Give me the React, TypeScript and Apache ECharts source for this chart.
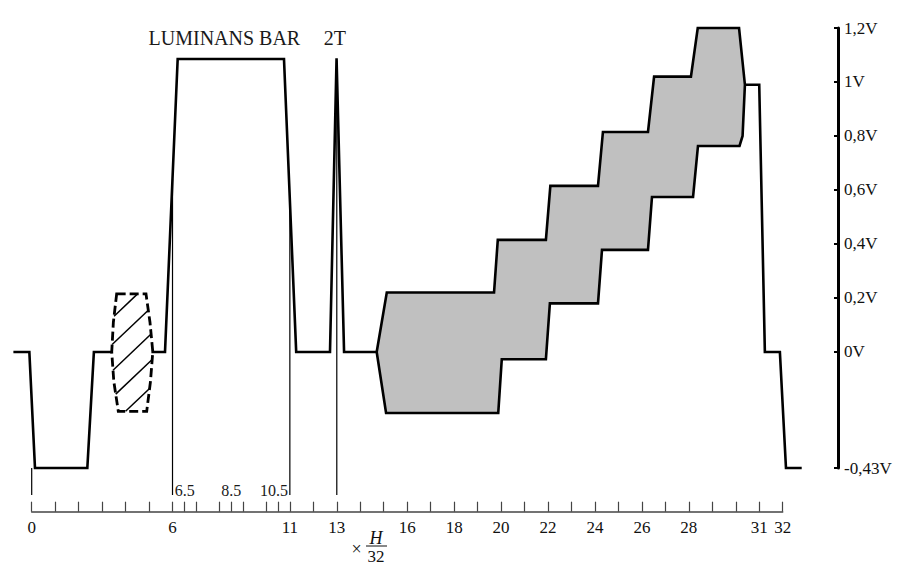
import React, { useEffect, useRef } from "react";
import * as echarts from "echarts";

// ---- axis ticks / labels ----
const xTickValues = [0, 1, 2, 3, 4, 5, 6, 6.5, 7, 8, 8.5, 9, 10, 10.5, 11, 12, 13, 14, 15, 16, 17, 18, 19, 20, 21, 22, 23, 24, 25, 26, 27, 28, 29, 30, 31, 32];
const xLabelValues = [0, 6, 11, 13, 16, 18, 20, 22, 24, 26, 28, 31, 32];
const yTickValues = [-0.43, 0, 0.2, 0.4, 0.6, 0.8, 1, 1.2];

// ---- waveform (x in H/32 units, y in volts) ----
const syncAndBlanking: [number, number][] = [
  [-0.78, 0], [-0.1, 0], [0.14, -0.43], [2.37, -0.43], [2.65, 0], [3.38, 0],
];
const lumaBarAndPulse: [number, number][] = [
  [5.1, 0], [5.68, 0], [6.22, 1.085], [10.75, 1.085], [11.27, 0], [12.71, 0],
  [12.99, 1.088], [13.31, 0], [14.7, 0],
];
const tailSection: [number, number][] = [
  [30.39, 0.99], [31.0, 0.99], [31.24, 0], [31.88, 0], [32.14, -0.43], [32.81, -0.43],
];
const burstOutline: [number, number][] = [
  [3.62, 0.215], [4.87, 0.215], [5.04, 0.11], [5.16, 0], [5.06, -0.11], [4.9, -0.22],
  [3.69, -0.22], [3.5, -0.11], [3.41, 0], [3.48, 0.11],
];
const staircaseOutline: [number, number][] = [
  [14.7, 0], [15.13, 0.22], [19.7, 0.22], [19.86, 0.415], [21.91, 0.415], [22.1, 0.615],
  [24.13, 0.615], [24.34, 0.815], [26.26, 0.815], [26.52, 1.02], [28.09, 1.02], [28.38, 1.2],
  [30.14, 1.2], [30.39, 0.99], [30.29, 0.8], [30.16, 0.763], [28.39, 0.763], [28.18, 0.574],
  [26.43, 0.574], [26.26, 0.378], [24.3, 0.378], [24.13, 0.18], [22.08, 0.18], [21.91, -0.027],
  [20.03, -0.027], [19.88, -0.226], [15.1, -0.226],
];
// vertical reference lines: [x, yTop, yBottom]
const markerLines: [number, number, number][] = [
  [0, -0.43, -0.53], [6, 0.64, -0.53], [11, 0.56, -0.53], [13, 1.08, -0.53],
];
const annotationTexts = ["LUMINANS BAR", "2T", "6.5", "8.5", "10.5"];
const annotationX = [8.21, 12.92, 6.52, 8.5, 10.32];
const annotationY = [1.163, 1.163, -0.513, -0.513, -0.513];
const annotationSize = [20, 20, 16, 16, 16];

const waveSections = [syncAndBlanking, lumaBarAndPulse, tailSection];

const FONT = "'Liberation Serif', 'Times New Roman', serif";

function hatchSegments(pts: number[][], spacing: number, slope: number, count: number) {
  let cx = 0, cy = 0;
  pts.forEach((p) => { cx += p[0]; cy += p[1]; });
  cx /= pts.length; cy /= pts.length;
  const segs: number[][][] = [];
  for (let k = -(count - 1) / 2; k <= (count - 1) / 2; k++) {
    const lineY = (x: number) => cy + k * spacing - slope * (x - cx);
    const hits: number[][] = [];
    for (let i = 0; i < pts.length; i++) {
      const [x1, y1] = pts[i];
      const [x2, y2] = pts[(i + 1) % pts.length];
      const f1 = y1 - lineY(x1);
      const f2 = y2 - lineY(x2);
      if ((f1 <= 0 && f2 > 0) || (f1 > 0 && f2 <= 0)) {
        const t = f1 / (f1 - f2);
        hits.push([x1 + t * (x2 - x1), y1 + t * (y2 - y1)]);
      }
    }
    if (hits.length >= 2) {
      hits.sort((a, b) => a[0] - b[0]);
      segs.push([hits[0], hits[hits.length - 1]]);
    }
  }
  return segs;
}

function fmtVolt(v: number) {
  return String(v).replace(".", ",") + "V";
}

export default function App() {
  const ref = useRef<HTMLDivElement>(null);
  useEffect(() => {
    if (!ref.current) return;
    const chart = echarts.init(ref.current, undefined, { renderer: "svg" });
    const option: any = {
      animation: false,
      backgroundColor: "#fff",
      grid: { left: 31.7, right: 115.3, top: 28, bottom: 97, containLabel: false, outerBoundsMode: "none" },
      xAxis: {
        type: "value",
        min: 0,
        max: 32,
        offset: 43.7,
        splitLine: { show: false },
        axisLine: { show: true, onZero: false, lineStyle: { color: "#444", width: 1.5 } },
        axisTick: { show: true, inside: true, length: 10, customValues: xTickValues, lineStyle: { color: "#444", width: 1.2 } },
        axisLabel: {
          customValues: xLabelValues,
          fontSize: 17,
          fontFamily: FONT,
          color: "#111",
          margin: 7,
          hideOverlap: false,
          showMinLabel: true,
          showMaxLabel: true,
        },
      },
      yAxis: {
        type: "value",
        position: "right",
        min: -0.43,
        max: 1.2,
        offset: 55.3,
        splitLine: { show: false },
        axisLine: { show: true, onZero: false, lineStyle: { color: "#000", width: 3 } },
        axisTick: { show: true, inside: true, length: 4, customValues: yTickValues, lineStyle: { color: "#000", width: 2 } },
        axisLabel: {
          customValues: yTickValues,
          formatter: (v: number) => fmtVolt(v),
          fontSize: 17,
          fontFamily: FONT,
          color: "#111",
          margin: 6,
          showMinLabel: true,
          showMaxLabel: true,
        },
      },
      graphic: [
        { type: "text", x: 356.7, y: 549, style: { text: "×", font: `18px ${FONT}`, fill: "#111", align: "center", verticalAlign: "middle" } },
        { type: "text", x: 376, y: 538, style: { text: "H", font: `italic 18px ${FONT}`, fill: "#111", align: "center", verticalAlign: "middle" } },
        { type: "line", shape: { x1: 366, y1: 546, x2: 387, y2: 546 }, style: { stroke: "#111", lineWidth: 1 } },
        { type: "text", x: 376, y: 556.5, style: { text: "32", font: `17px ${FONT}`, fill: "#111", align: "center", verticalAlign: "middle" } },
      ],
      series: [
        {
          type: "custom",
          name: "markers",
          z: 1,
          clip: false,
          data: markerLines,
          renderItem: (params: any, api: any) => {
            const a = api.coord([api.value(0), api.value(1)]);
            const b = api.coord([api.value(0), api.value(2)]);
            return { type: "line", shape: { x1: a[0], y1: a[1], x2: b[0], y2: b[1] }, style: { stroke: "#000", lineWidth: 1.2 } };
          },
        },
        {
          type: "custom",
          name: "staircase",
          z: 3,
          clip: false,
          data: [[0, 0]],
          renderItem: (params: any, api: any) => {
            const pts = staircaseOutline.map((p) => api.coord(p));
            return {
              type: "polygon",
              shape: { points: pts },
              style: { fill: "#c0c0c0", stroke: "#000", lineWidth: 2.6, lineJoin: "miter" },
            };
          },
        },
        {
          type: "custom",
          name: "burst",
          z: 3,
          clip: false,
          data: [[0, 0]],
          renderItem: (params: any, api: any) => {
            const pts = burstOutline.map((p) => api.coord(p));
            const segs = hatchSegments(pts, 26.5, 0.95, 5);
            const children: any[] = segs.map((s) => ({
              type: "line",
              shape: { x1: s[0][0], y1: s[0][1], x2: s[1][0], y2: s[1][1] },
              style: { stroke: "#000", lineWidth: 1.5 },
            }));
            children.push({
              type: "polygon",
              shape: { points: pts },
              style: { fill: "none", stroke: "#000", lineWidth: 2.8, lineDash: [9, 4] },
            });
            return { type: "group", children };
          },
        },
        {
          type: "custom",
          name: "waveform",
          z: 4,
          clip: false,
          data: waveSections.map((s, i) => [s[0][0], s[0][1], i]),
          renderItem: (params: any, api: any) => {
            const sec = waveSections[params.dataIndex];
            const pts = sec.map((p) => api.coord(p));
            return {
              type: "polyline",
              shape: { points: pts },
              style: { fill: "none", stroke: "#000", lineWidth: 2.6, lineJoin: "miter" },
            };
          },
        },
        {
          type: "custom",
          name: "annotations",
          z: 5,
          clip: false,
          data: annotationX.map((x, i) => [x, annotationY[i]]),
          renderItem: (params: any, api: any) => {
            const i = params.dataIndex;
            const p = api.coord([api.value(0), api.value(1)]);
            return {
              type: "text",
              x: p[0],
              y: p[1],
              style: {
                text: annotationTexts[i],
                font: `${annotationSize[i]}px ${FONT}`,
                fill: "#1a1a1a",
                align: "center",
                verticalAlign: "middle",
              },
            };
          },
        },
      ],
    };
    chart.setOption(option);
    return () => chart.dispose();
  }, []);
  return (
    <div
      ref={ref}
      style={{ position: "fixed", left: 0, top: 0, width: 898, height: 565, background: "#fff" }}
    />
  );
}
